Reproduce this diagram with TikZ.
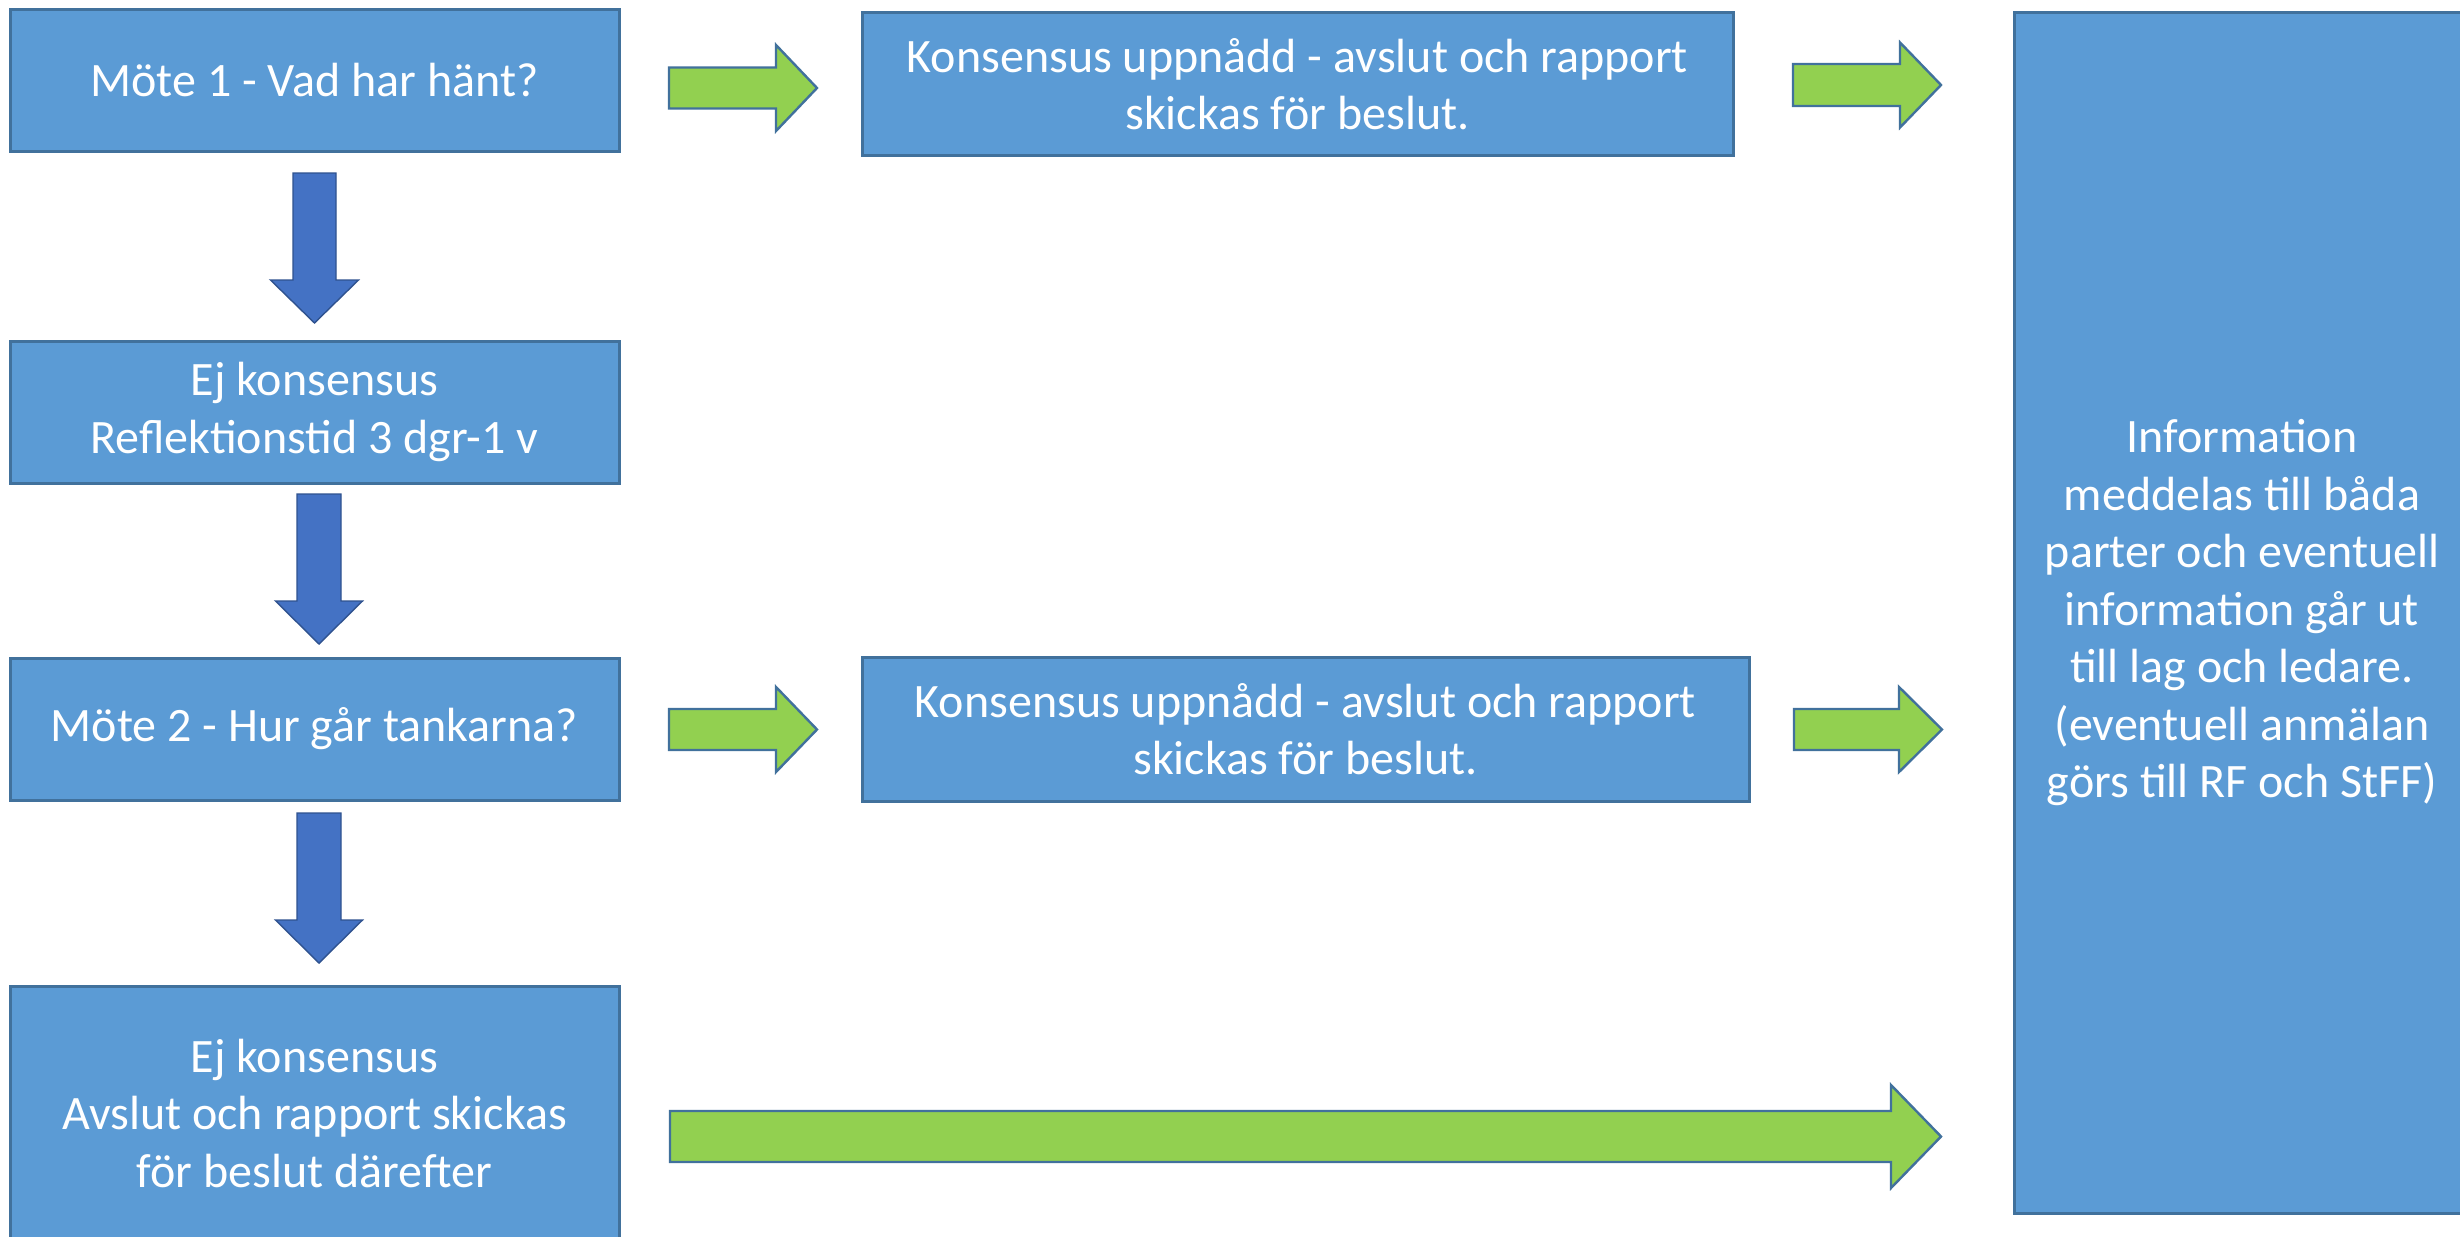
\documentclass[tikz,border=0pt]{standalone}
\usepackage{fontspec}
\setmainfont{Carlito}
\definecolor{boxfill}{HTML}{5B9BD5}
\definecolor{boxline}{HTML}{41719C}
\definecolor{gfill}{HTML}{92D050}
\definecolor{bfill}{HTML}{4472C4}
\definecolor{bline}{HTML}{2F528F}
\newcommand\harrow[7]{\draw[#1] (#2,#5-#6) -- (#3,#5-#6) -- (#3,#5-#7) -- (#4,#5) -- (#3,#5+#7) -- (#3,#5+#6) -- (#2,#5+#6) -- cycle;}
\newcommand\varrow[7]{\draw[#1] (#2-#6,#3) -- (#2+#6,#3) -- (#2+#6,#4) -- (#2+#7,#4) -- (#2,#5) -- (#2-#7,#4) -- (#2-#6,#4) -- cycle;}
\begin{document}
\begin{tikzpicture}[x=0.5pt,y=-0.5pt,
  box/.style={draw=boxline, fill=boxfill, line width=1.5pt, text=white, align=center, inner sep=0pt,
    font=\fontsize{24}{28.75}\selectfont},
  garrow/.style={draw=boxline, fill=gfill, line width=1.2pt, line join=miter},
  barrow/.style={draw=bline, fill=bfill, line width=0.7pt, line join=miter}]
\useasboundingbox (0,0) rectangle (2460,1236);
\clip (0,0) rectangle (2460,1236);
\fill[white] (0,0) rectangle (2460,1236);

\node[box, minimum width=304.5pt, minimum height=70.5pt] (m1) at (314.5,80.5) {Möte 1 - Vad har hänt?};
\node[box, minimum width=304.5pt, minimum height=71pt] (ej1) at (314.5,412) {Ej konsensus\\Reflektionstid 3 dgr-1 v};
\node[box, minimum width=304.5pt, minimum height=71pt] (m2) at (314.5,729) {Möte 2 - Hur går tankarna?};
\node[box, minimum width=304.5pt, minimum height=127pt] (ej2) at (314.5,1113) {Ej konsensus\\Avslut och rapport skickas\\för beslut därefter};
\node[box, minimum width=435.5pt, minimum height=71pt] (k1) at (1297.5,84) {Konsensus uppnådd - avslut och rapport\\skickas för beslut.};
\node[box, minimum width=443.5pt, minimum height=72pt] (k2) at (1305.5,729) {Konsensus uppnådd - avslut och rapport\\skickas för beslut.};
\node[box, minimum width=228pt, minimum height=600pt] (info) at (2242,613) {Information\\meddelas till båda\\parter och eventuell\\information går ut\\till lag och ledare.\\(eventuell anmälan\\görs till RF och StFF)};

\harrow{garrow}{669}{776}{817}{88}{20.5}{43}
\harrow{garrow}{1793}{1900}{1941}{85}{21}{42.5}
\harrow{garrow}{669}{776}{817}{729.5}{20.5}{42.5}
\harrow{garrow}{1794}{1899}{1942}{729.5}{20.5}{42.5}
\harrow{garrow}{670}{1891}{1941}{1136.5}{25.5}{51.5}

\varrow{barrow}{314.5}{173}{280}{323}{21.5}{44}
\varrow{barrow}{319}{494}{601}{644}{22}{43.5}
\varrow{barrow}{319}{813}{920}{963}{22}{43.5}
\end{tikzpicture}
\end{document}
